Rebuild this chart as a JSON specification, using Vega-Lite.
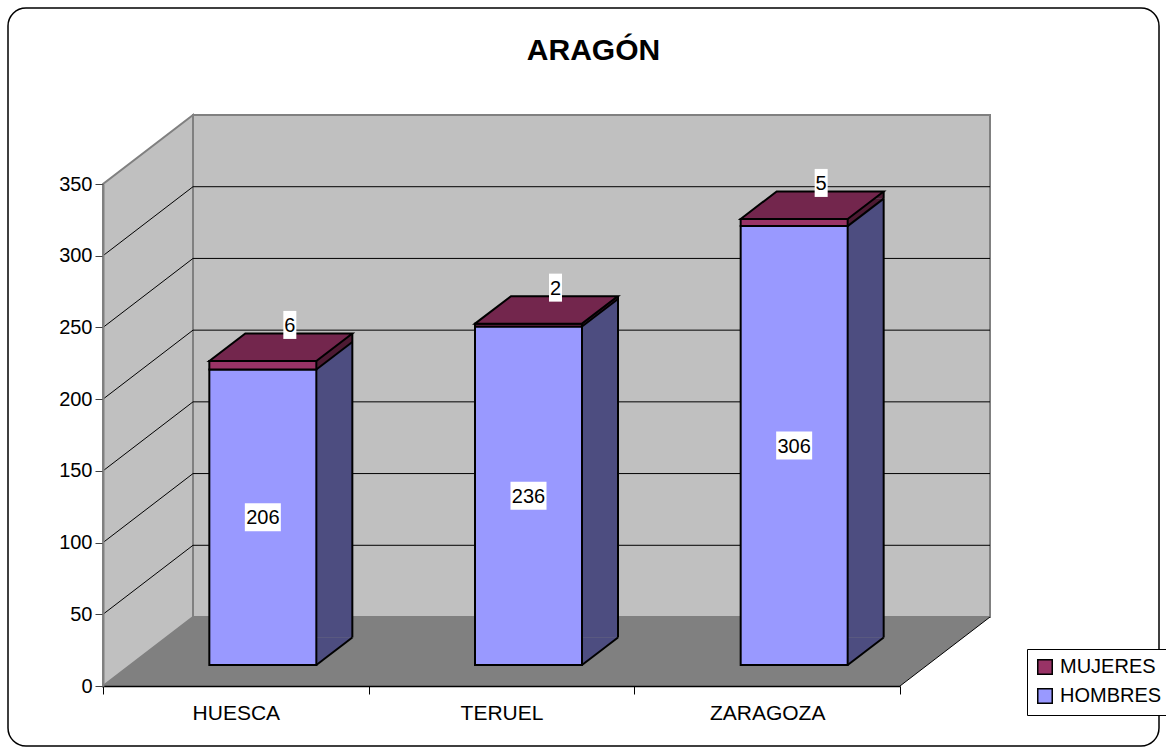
{
  "$schema": "https://vega.github.io/schema/vega-lite/v6.json",
  "autosize": {"type": "none"},
  "padding": {"left": 8, "top": 8, "right": 7, "bottom": 6},
  "width": 1151,
  "height": 738,
  "background": "white",
  "title": {"text": "ARAGÓN", "font": "Liberation Sans", "fontSize": 30, "fontWeight": "bold", "color": "black", "anchor": "middle", "frame": "group", "orient": "top", "offset": 0, "baseline": "alphabetic", "dx": 10, "dy": 82},
  "config": {
    "view": {"stroke": "black", "strokeWidth": 1.5, "cornerRadius": 18, "fill": "white"},
    "font": "Liberation Sans"
  },
  "datasets": {
    "datos": [
      {"provincia": "HUESCA", "sexo": "HOMBRES", "n": 206},
      {"provincia": "HUESCA", "sexo": "MUJERES", "n": 6},
      {"provincia": "TERUEL", "sexo": "HOMBRES", "n": 236},
      {"provincia": "TERUEL", "sexo": "MUJERES", "n": 2},
      {"provincia": "ZARAGOZA", "sexo": "HOMBRES", "n": 306},
      {"provincia": "ZARAGOZA", "sexo": "MUJERES", "n": 5}
    ],
    "rejilla": [{"v": 50}, {"v": 100}, {"v": 150}, {"v": 200}, {"v": 250}, {"v": 300}]
  },
  "layer": [
    {
      "data": {"values": [{}]},
      "mark": {"type": "point", "shape": "M0,0V-502L90,-571V-69Z", "size": 4, "filled": true, "fill": "#C0C0C0", "stroke": "#808080", "strokeWidth": 2, "opacity": 1},
      "encoding": {
        "x": {"datum": "HUESCA", "type": "nominal", "bandPosition": 0, "title": null,
          "scale": {"type": "band", "domain": ["HUESCA", "TERUEL", "ZARAGOZA"], "range": [95, 892], "paddingInner": 0, "paddingOuter": 0},
          "axis": {"orient": "bottom", "offset": -60, "grid": false, "domainColor": "black", "domainWidth": 1.5, "tickColor": "black", "tickSize": 8, "tickWidth": 1, "tickBand": "extent", "labelFont": "Liberation Sans", "labelFontSize": 21, "labelColor": "black", "labelPadding": 8, "labelAngle": 0, "zindex": 1, "title": null}},
        "y": {"datum": 0, "type": "quantitative", "title": null,
          "scale": {"domain": [0, 350], "range": [678, 176], "nice": false, "zero": true},
          "axis": {"orient": "left", "offset": -95, "values": [0, 50, 100, 150, 200, 250, 300, 350], "grid": false, "domainColor": "#808080", "domainWidth": 2, "tickColor": "#404040", "tickSize": 8, "tickWidth": 1, "labelFont": "Liberation Sans", "labelFontSize": 20, "labelColor": "black", "labelPadding": 3, "zindex": 1, "title": null}}
      }
    },
    {
      "data": {"values": [{}]},
      "mark": {"type": "point", "shape": "M90,-69V-571H887V-69Z", "size": 4, "filled": true, "fill": "#C0C0C0", "stroke": "#808080", "strokeWidth": 2, "opacity": 1},
      "encoding": {
        "x": {"datum": "HUESCA", "type": "nominal", "bandPosition": 0, "title": null},
        "y": {"datum": 0, "type": "quantitative", "title": null}
      }
    },
    {
      "data": {"name": "rejilla"},
      "mark": {"type": "point", "shape": "M0,0L90,-69H887", "size": 4, "filled": false, "stroke": "black", "strokeWidth": 1, "opacity": 1},
      "encoding": {
        "x": {"datum": "HUESCA", "type": "nominal", "bandPosition": 0, "title": null},
        "y": {"field": "v", "type": "quantitative", "title": null}
      }
    },
    {
      "data": {"values": [{}]},
      "mark": {"type": "point", "shape": "M0,0L90,-69H887L797,0Z", "size": 4, "filled": true, "fill": "#808080", "strokeWidth": 0, "opacity": 1},
      "encoding": {
        "x": {"datum": "HUESCA", "type": "nominal", "bandPosition": 0, "title": null},
        "y": {"datum": 0, "type": "quantitative", "title": null}
      }
    },
    {
      "data": {"values": [{}]},
      "mark": {"type": "point", "shape": "M797,0L887,-69", "size": 4, "filled": false, "stroke": "black", "strokeWidth": 1, "opacity": 1},
      "encoding": {
        "x": {"datum": "HUESCA", "type": "nominal", "bandPosition": 0, "title": null},
        "y": {"datum": 0, "type": "quantitative", "title": null}
      }
    },
    {
      "data": {"name": "datos"},
      "transform": [{"stack": "n", "groupby": ["provincia"], "sort": [{"field": "sexo", "order": "ascending"}], "as": ["y0", "y1"]}],
      "layer": [
        {
          "mark": {"type": "bar", "width": 36, "xOffset": 98.5, "yOffset": -48.5, "y2Offset": -48.5, "strokeWidth": 0},
          "encoding": {
            "x": {"field": "provincia", "type": "nominal", "title": null},
            "y": {"field": "y1", "type": "quantitative", "title": null},
            "y2": {"field": "y0"},
            "fill": {"condition": {"test": "datum.sexo === 'HOMBRES'", "value": "#4D4D80"}, "value": "#4D1A33"}
          }
        },
        {
          "mark": {"type": "point", "shape": "M0,0V-27.5H36Z", "size": 4, "filled": true, "strokeWidth": 0, "opacity": 1, "xOffset": 80.5, "yOffset": -21},
          "encoding": {
            "x": {"field": "provincia", "type": "nominal", "title": null},
            "y": {"field": "y0", "type": "quantitative", "title": null},
            "fill": {"condition": {"test": "datum.sexo === 'HOMBRES'", "value": "#4D4D80"}, "value": "#4D1A33"}
          }
        },
        {
          "mark": {"type": "rule", "stroke": "black", "strokeWidth": 2, "xOffset": 116.5, "yOffset": -48.5, "y2Offset": -48.5},
          "encoding": {
            "x": {"field": "provincia", "type": "nominal", "title": null},
            "y": {"field": "y0", "type": "quantitative", "title": null},
            "y2": {"field": "y1"}
          }
        },
        {
          "mark": {"type": "point", "shape": "M0,0L36,-27.5", "size": 4, "filled": false, "stroke": "black", "strokeWidth": 2, "opacity": 1, "xOffset": 80.5, "yOffset": -21},
          "encoding": {
            "x": {"field": "provincia", "type": "nominal", "title": null},
            "y": {"field": "y0", "type": "quantitative", "title": null}
          }
        },
        {
          "mark": {"type": "bar", "width": 107, "xOffset": 27, "yOffset": -21, "y2Offset": -21, "stroke": "black", "strokeWidth": 2},
          "encoding": {
            "x": {"field": "provincia", "type": "nominal", "title": null},
            "y": {"field": "y1", "type": "quantitative", "title": null},
            "y2": {"field": "y0"},
            "color": {"field": "sexo", "type": "nominal",
              "scale": {"domain": ["MUJERES", "HOMBRES"], "range": ["#993366", "#9999FF"]},
              "legend": {"orient": "none", "legendX": 1019, "legendY": 641, "title": null, "labelFont": "Liberation Sans", "labelFontSize": 20, "labelColor": "black", "symbolType": "square", "symbolSize": 210, "symbolStrokeColor": "black", "symbolStrokeWidth": 1.5, "strokeColor": "black", "fillColor": "white", "padding": 8, "rowPadding": 7, "labelOffset": 5}}
          }
        },
        {
          "transform": [{"filter": "datum.sexo === 'MUJERES'"}],
          "mark": {"type": "point", "shape": "M-53.5,0L-17.5,-27.5H89.5L53.5,0Z", "size": 4, "filled": true, "fill": "#73264D", "stroke": "black", "strokeWidth": 2, "opacity": 1, "xOffset": 27, "yOffset": -21},
          "encoding": {
            "x": {"field": "provincia", "type": "nominal", "title": null},
            "y": {"field": "y1", "type": "quantitative", "title": null}
          }
        },
        {
          "transform": [{"filter": "datum.sexo === 'HOMBRES'"}],
          "encoding": {
            "x": {"field": "provincia", "type": "nominal", "title": null},
            "y": {"field": "n", "type": "quantitative", "stack": "zero", "bandPosition": 0.5, "title": null},
            "detail": {"field": "sexo"}
          },
          "layer": [
            {"mark": {"type": "point", "shape": "M-18,-14H18V14H-18Z", "size": 4, "filled": true, "fill": "white", "strokeWidth": 0, "opacity": 1, "xOffset": 27, "yOffset": -21}},
            {"mark": {"type": "text", "font": "Liberation Sans", "fontSize": 20, "color": "black", "xOffset": 27, "yOffset": -20, "baseline": "middle", "align": "center"},
             "encoding": {"text": {"field": "n", "type": "quantitative"}}}
          ]
        },
        {
          "transform": [{"filter": "datum.sexo === 'MUJERES'"}],
          "encoding": {
            "x": {"field": "provincia", "type": "nominal", "title": null},
            "y": {"field": "y1", "type": "quantitative", "title": null}
          },
          "layer": [
            {"mark": {"type": "point", "shape": "M-6.5,-14H6.5V14H-6.5Z", "size": 4, "filled": true, "fill": "white", "strokeWidth": 0, "opacity": 1, "xOffset": 54, "yOffset": -57}},
            {"mark": {"type": "text", "font": "Liberation Sans", "fontSize": 20, "color": "black", "xOffset": 54, "yOffset": -56, "baseline": "middle", "align": "center"},
             "encoding": {"text": {"field": "n", "type": "quantitative"}}}
          ]
        }
      ]
    }
  ]
}
